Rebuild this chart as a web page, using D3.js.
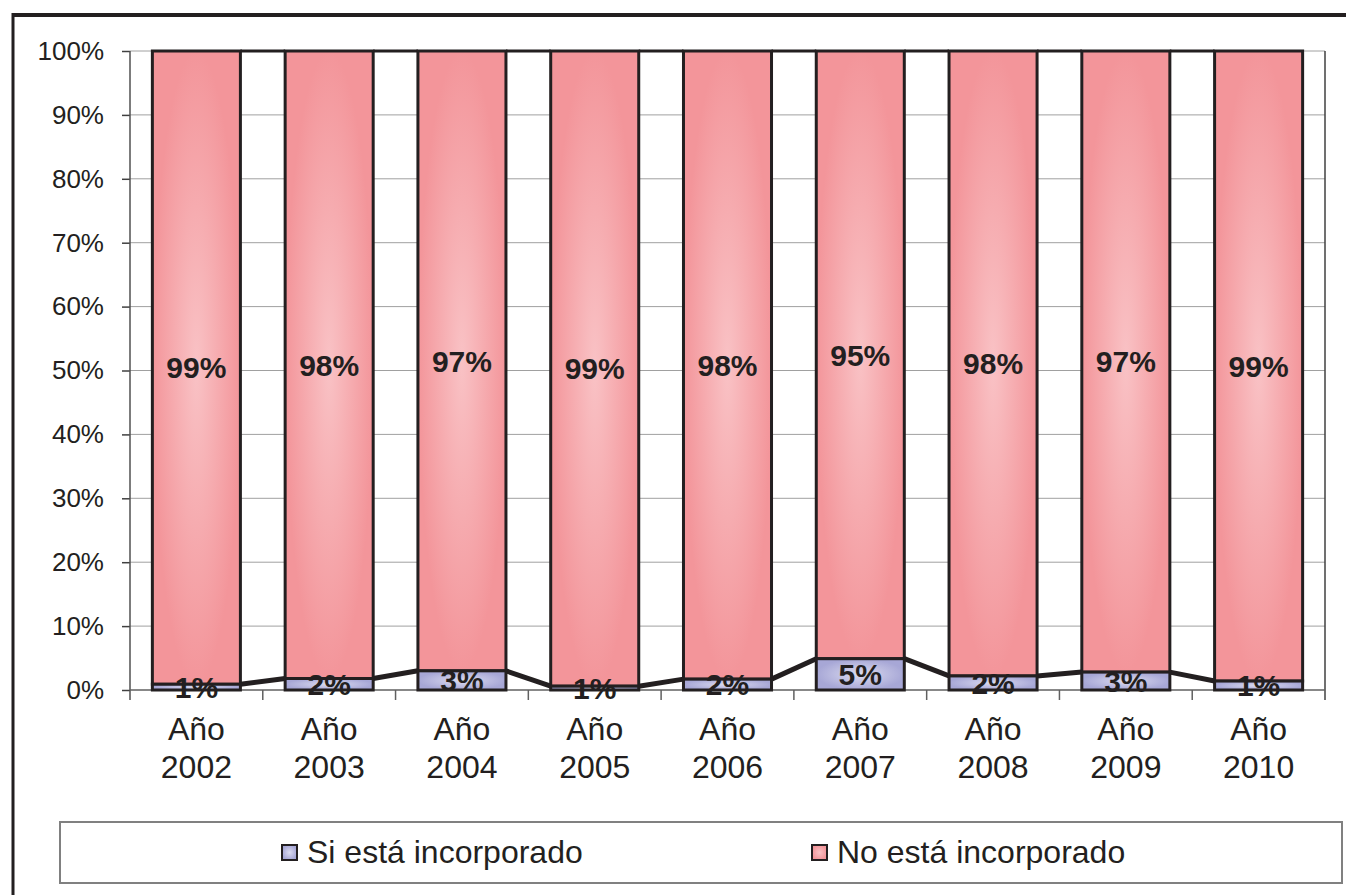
<!DOCTYPE html>
<html lang="es">
<head>
<meta charset="UTF-8">
<script src="https://d3js.org/d3.v7.min.js"></script>
<style>
  body { margin: 0; background: #fff; }
  svg { display: block; font-family: "Liberation Sans", Arial, sans-serif; }
  .grid line { stroke: #a0a0a0; stroke-width: 1; }
  .ylab { font-size: 26px; fill: #231f20; }
  .xlab { font-size: 32px; fill: #231f20; }
  .val { font-size: 30px; font-weight: bold; fill: #231f20; }
  .leg { font-size: 32px; fill: #231f20; }
</style>
</head>
<body>
<div class="chart"></div>
<script>
const years = ['2002', '2003', '2004', '2005', '2006', '2007', '2008', '2009', '2010']
const siValues = [0.9, 1.8, 3.0, 0.6, 1.7, 4.9, 2.2, 2.8, 1.4]
const noValues = [99.1, 98.2, 97.0, 99.4, 98.3, 95.1, 97.8, 97.2, 98.6]
const siLabels = ['1%', '2%', '3%', '1%', '2%', '5%', '2%', '3%', '1%']
const noLabels = ['99%', '98%', '97%', '99%', '98%', '95%', '98%', '97%', '99%']
const yTicks = [0, 10, 20, 30, 40, 50, 60, 70, 80, 90, 100]
const seriesNames = ['Si está incorporado', 'No está incorporado']

const width = 1346, height = 895
const plotL = 130, plotR = 1325, plotT = 51, plotB = 690
const ink = '#231f20'

const svg = d3.select('.chart').append('svg')
    .attr('width', width)
    .attr('height', height)

// gradients
const defs = svg.append('defs')
function grad(id, edge, mid) {
    const g = defs.append('radialGradient').attr('id', id)
        .attr('cx', 0.5).attr('cy', 0.5).attr('r', 0.5)
    g.append('stop').attr('offset', '0%').attr('stop-color', mid)
    g.append('stop').attr('offset', '100%').attr('stop-color', edge)
}
grad('gNo', '#f3959a', '#f9c2c5')
grad('gSi', '#a7a7d6', '#dcdcf0')

// outer frame
svg.append('line').attr('x1', 13).attr('x2', width).attr('y1', 15).attr('y2', 15)
    .attr('stroke', ink).attr('stroke-width', 4)
svg.append('line').attr('x1', 13).attr('x2', 13).attr('y1', 13).attr('y2', height)
    .attr('stroke', ink).attr('stroke-width', 3)

const x = d3.scaleBand()
    .domain(years)
    .range([plotL, plotR])
    .paddingInner(0.337)
    .paddingOuter(0.337 / 2)

const y = d3.scaleLinear()
    .domain([0, 100])
    .range([plotB, plotT])

// gridlines
svg.append('g').attr('class', 'grid')
    .selectAll('line')
    .data(yTicks.filter(d => d > 0))
    .enter().append('line')
    .attr('x1', plotL).attr('x2', plotR)
    .attr('y1', d => y(d)).attr('y2', d => y(d))

// plot right border
svg.append('line').attr('x1', plotR).attr('x2', plotR).attr('y1', plotT).attr('y2', plotB + 10)
    .attr('stroke', '#404040').attr('stroke-width', 1.5)

// y axis
const yAxis = svg.append('g')
    .attr('transform', `translate(${plotL},0)`)
    .call(d3.axisLeft(y).tickValues(yTicks).tickSize(8).tickFormat(d => d + '%').tickPadding(18))
yAxis.select('.domain').remove()
yAxis.selectAll('line').attr('stroke', '#404040').attr('stroke-width', 1.5)
yAxis.selectAll('text').attr('class', 'ylab')
yAxis.attr('font-size', null).attr('font-family', null)
svg.append('line').attr('x1', plotL).attr('x2', plotL).attr('y1', plotT).attr('y2', plotB + 10)
    .attr('stroke', '#505050').attr('stroke-width', 1.5)

// x axis line and ticks at category boundaries
svg.append('line').attr('x1', plotL).attr('x2', plotR).attr('y1', plotB).attr('y2', plotB)
    .attr('stroke', '#606060').attr('stroke-width', 1.5)
svg.append('g').selectAll('line')
    .data(years.slice(1))
    .enter().append('line')
    .attr('x1', d => x(d) - x.step() * x.paddingInner() / 2)
    .attr('x2', d => x(d) - x.step() * x.paddingInner() / 2)
    .attr('y1', plotB).attr('y2', plotB + 10)
    .attr('stroke', '#606060').attr('stroke-width', 1.5)

// series lines
const lines = svg.append('g')
years.slice(0, -1).forEach((yr, i) => {
    const nx = years[i + 1]
    lines.append('line')
        .attr('x1', x(yr) + x.bandwidth()).attr('x2', x(nx))
        .attr('y1', y(siValues[i])).attr('y2', y(siValues[i + 1]))
        .attr('stroke', ink).attr('stroke-width', 5)
    lines.append('line')
        .attr('x1', x(yr) + x.bandwidth()).attr('x2', x(nx))
        .attr('y1', y(siValues[i] + noValues[i])).attr('y2', y(siValues[i + 1] + noValues[i + 1]))
        .attr('stroke', ink).attr('stroke-width', 3)
})

// bars
svg.append('g').selectAll('rect')
    .data(years)
    .enter().append('rect')
    .attr('x', d => x(d))
    .attr('width', x.bandwidth())
    .attr('y', (d, i) => y(siValues[i] + noValues[i]))
    .attr('height', (d, i) => y(siValues[i]) - y(siValues[i] + noValues[i]))
    .attr('fill', 'url(#gNo)')
    .attr('stroke', ink).attr('stroke-width', 3)

svg.append('g').selectAll('rect')
    .data(years)
    .enter().append('rect')
    .attr('x', d => x(d))
    .attr('width', x.bandwidth())
    .attr('y', (d, i) => y(siValues[i]))
    .attr('height', (d, i) => y(0) - y(siValues[i]))
    .attr('fill', 'url(#gSi)')
    .attr('stroke', ink).attr('stroke-width', 3)

// value labels
svg.append('g').selectAll('text')
    .data(years)
    .enter().append('text')
    .attr('class', 'val')
    .attr('x', d => x(d) + x.bandwidth() / 2)
    .attr('y', (d, i) => (y(siValues[i]) + y(siValues[i] + noValues[i])) / 2)
    .attr('text-anchor', 'middle')
    .attr('dy', '0.36em')
    .text((d, i) => noLabels[i])

svg.append('g').selectAll('text')
    .data(years)
    .enter().append('text')
    .attr('class', 'val')
    .attr('x', d => x(d) + x.bandwidth() / 2)
    .attr('y', (d, i) => (y(0) + y(siValues[i])) / 2)
    .attr('text-anchor', 'middle')
    .attr('dy', '0.36em')
    .text((d, i) => siLabels[i])

// category labels
const xl = svg.append('g').selectAll('text')
    .data(years)
    .enter().append('text')
    .attr('class', 'xlab')
    .attr('text-anchor', 'middle')
    .attr('x', d => x(d) + x.bandwidth() / 2)
xl.append('tspan').attr('x', d => x(d) + x.bandwidth() / 2).attr('y', 740).text('Año')
xl.append('tspan').attr('x', d => x(d) + x.bandwidth() / 2).attr('y', 778).text(d => d)

// legend
svg.append('rect').attr('x', 60).attr('y', 822).attr('width', 1282).attr('height', 61)
    .attr('fill', 'none').attr('stroke', '#808080').attr('stroke-width', 2)
const legX = [282, 812]
const legFill = ['url(#gSi)', 'url(#gNo)']
const leg = svg.append('g').selectAll('g')
    .data(seriesNames)
    .enter().append('g')
    .attr('transform', (d, i) => `translate(${legX[i]},0)`)
leg.append('rect').attr('x', 0).attr('y', 845).attr('width', 15).attr('height', 15)
    .attr('fill', (d, i) => legFill[i]).attr('stroke', ink).attr('stroke-width', 2)
leg.append('text').attr('class', 'leg').attr('x', 25).attr('y', 863).text(d => d)
</script>
</body>
</html>
